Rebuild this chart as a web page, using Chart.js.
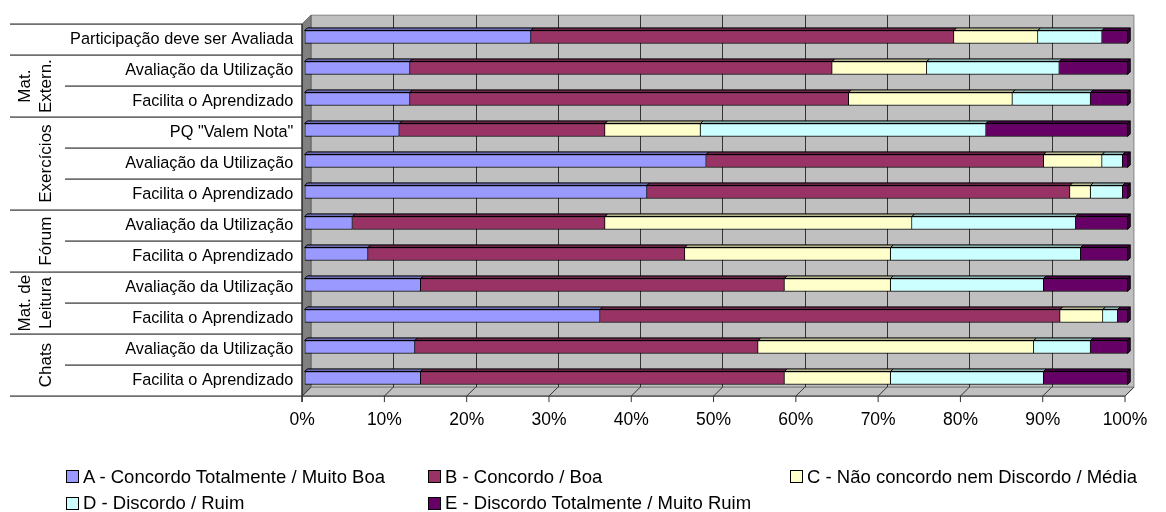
<!DOCTYPE html>
<html lang="pt">
<head>
<meta charset="utf-8">
<title>Avaliação das ferramentas</title>
<script src="https://cdn.jsdelivr.net/npm/chart.js@4.4.1/dist/chart.umd.min.js"></script>
<style>
  html, body { margin: 0; padding: 0; background: #fff; }
  #wrap { position: relative; width: 1166px; height: 512px; overflow: hidden; }
  #chart { position: absolute; left: 0; top: 0; }
  .leg-text { position: absolute; font-family: 'Liberation Sans', Arial, sans-serif; font-size: 18.5px; line-height: 22px; color: #000; white-space: nowrap; }
  .leg-box { position: absolute; width: 11px; height: 11px; border: 1px solid #000; }
</style>
</head>
<body>
<div id="wrap">
  <canvas id="chart" width="1166" height="512"></canvas>
  <div id="legend"></div>
</div>
<script>
// Row labels, top to bottom
const categoryLabels = [
  'Participação deve ser Avaliada',
  'Avaliação da Utilização',
  'Facilita o Aprendizado',
  'PQ "Valem Nota"',
  'Avaliação da Utilização',
  'Facilita o Aprendizado',
  'Avaliação da Utilização',
  'Facilita o Aprendizado',
  'Avaliação da Utilização',
  'Facilita o Aprendizado',
  'Avaliação da Utilização',
  'Facilita o Aprendizado'
];

// Group headings of the row table (rotated text) and the rows they span
const groupNames = [['Mat.', 'Extern.'], ['Exercícios'], ['Fórum'], ['Mat. de', 'Leitura'], ['Chats']];
const groupFirstRow = [1, 3, 6, 8, 10];
const groupLastRow = [2, 5, 7, 9, 11];

// Answer series (percent of answers per row)
const seriesNames = [
  'A - Concordo Totalmente / Muito Boa',
  'B - Concordo / Boa',
  'C - Não concordo nem Discordo / Média',
  'D - Discordo / Ruim',
  'E - Discordo Totalmente / Muito Ruim'
];
const serieA = [27.5, 12.8, 12.8, 11.5, 48.8, 41.6, 5.8, 7.7, 14.1, 35.9, 13.4, 14.1];
const serieB = [51.4, 51.3, 53.3, 25.0, 41.0, 51.4, 30.7, 38.5, 44.2, 55.9, 41.7, 44.2];
const serieC = [10.2, 11.5, 19.9, 11.6, 7.1, 2.5, 37.3, 25.0, 12.9, 5.2, 33.5, 12.9];
const serieD = [7.8, 16.1, 9.5, 34.7, 2.5, 3.9, 19.9, 23.1, 18.6, 1.8, 6.9, 18.6];
const serieE = [3.1, 8.3, 4.5, 17.2, 0.6, 0.6, 6.3, 5.7, 10.2, 1.2, 4.5, 10.2];

// Axis ticks (percent)
const axisMin = 0, axisMax = 100, axisStep = 10;

const seriesColors = ['#9999ff', '#993366', '#ffffcc', '#ccffff', '#660066'];
const FONT = "'Liberation Sans', Arial, sans-serif";

// Pseudo-3D depths in pixels, relative to the plane of the bar faces
const DEPTH_BAR = 2.6;
const DEPTH_FRONT = 2.6;
const DEPTH_BACK = 6.3;

function shade(hex, f) {
  const n = parseInt(hex.slice(1), 16);
  const r = Math.round(((n >> 16) & 255) * f);
  const g = Math.round(((n >> 8) & 255) * f);
  const b = Math.round((n & 255) * f);
  return `rgb(${r},${g},${b})`;
}

function poly(ctx, pts, fill, stroke, lw) {
  ctx.beginPath();
  ctx.moveTo(pts[0][0], pts[0][1]);
  for (let i = 1; i < pts.length; i++) ctx.lineTo(pts[i][0], pts[i][1]);
  ctx.closePath();
  if (fill) { ctx.fillStyle = fill; ctx.fill(); }
  if (stroke) { ctx.strokeStyle = stroke; ctx.lineWidth = lw || 1; ctx.stroke(); }
}

function line(ctx, x0, y0, x1, y1) {
  ctx.beginPath();
  ctx.moveTo(x0, y0);
  ctx.lineTo(x1, y1);
  ctx.stroke();
}

// Back wall, side wall, floor and their grid lines
const wallsPlugin = {
  id: 'walls',
  beforeDatasetsDraw(chart) {
    const { ctx, chartArea: a, scales: { x } } = chart;
    const fl = a.left - DEPTH_FRONT, fr = a.right - DEPTH_FRONT;
    const ft = a.top + DEPTH_FRONT, fb = a.bottom + DEPTH_FRONT;
    const bl = a.left + DEPTH_BACK, br = a.right + DEPTH_BACK;
    const bt = a.top - DEPTH_BACK, bb = a.bottom - DEPTH_BACK;
    ctx.save();
    poly(ctx, [[bl, bt], [br, bt], [br, bb], [bl, bb]], '#c0c0c0', '#808080', 1);
    poly(ctx, [[fl, ft], [bl, bt], [bl, bb], [fl, fb]], '#808080', '#606060', 1);
    poly(ctx, [[fl, fb], [bl, bb], [br, bb], [fr, fb]], '#c0c0c0', '#808080', 1);
    ctx.strokeStyle = '#333';
    ctx.lineWidth = 1;
    x.ticks.forEach(t => {
      const px = x.getPixelForValue(t.value);
      if (t.value > axisMin && t.value < axisMax) {
        const gx = Math.round(px + DEPTH_BACK) + 0.5;
        line(ctx, gx, bt, gx, bb);
      }
      line(ctx, px - DEPTH_FRONT, fb, px + DEPTH_BACK, bb);
    });
    ctx.restore();
  },
  afterDatasetsDraw(chart) {
    const ctx = chart.ctx;
    const rows = chart.data.labels.length;
    ctx.save();
    ctx.lineJoin = 'miter';
    chart.data.datasets.forEach((ds, di) => {
      const meta = chart.getDatasetMeta(di);
      meta.data.forEach(bar => {
        const { x: xe, y, base, height } = bar.getProps(['x', 'y', 'base', 'height'], true);
        if (Math.abs(xe - base) < 0.5) return;
        const top = y - height / 2;
        const x1 = Math.min(base, xe), x2 = Math.max(base, xe);
        poly(ctx, [[x1, top], [x1 + DEPTH_BAR, top - DEPTH_BAR], [x2 + DEPTH_BAR, top - DEPTH_BAR], [x2, top]],
          shade(ds.backgroundColor, 0.7), '#000', 1);
      });
    });
    for (let i = 0; i < rows; i++) {
      let last = -1;
      chart.data.datasets.forEach((ds, di) => { if (ds.data[i] > 0) last = di; });
      if (last < 0) continue;
      const ds = chart.data.datasets[last];
      const bar = chart.getDatasetMeta(last).data[i];
      const { x: xe, y, base, height } = bar.getProps(['x', 'y', 'base', 'height'], true);
      const x2 = Math.max(base, xe);
      const top = y - height / 2;
      poly(ctx, [[x2, top], [x2 + DEPTH_BAR, top - DEPTH_BAR], [x2 + DEPTH_BAR, top + height - DEPTH_BAR], [x2, top + height]],
        shade(ds.backgroundColor, 0.55), '#000', 1);
    }
    ctx.restore();
  },
  afterDraw(chart) {
    const { ctx, chartArea: a, scales: { x, y } } = chart;
    const rows = chart.data.labels.length;
    const fl = a.left - DEPTH_FRONT, fr = a.right - DEPTH_FRONT;
    const ft = a.top + DEPTH_FRONT, fb = a.bottom + DEPTH_FRONT;
    ctx.save();

    // Row table separators: full width at group edges, short inside a group
    const groupEdges = new Set([0, rows]);
    groupFirstRow.forEach(r => groupEdges.add(r));
    groupLastRow.forEach(r => groupEdges.add(r + 1));
    ctx.strokeStyle = '#707070';
    ctx.lineWidth = 1.6;
    for (let i = 0; i <= rows; i++) {
      const yy = y.getPixelForValue(i - 0.5) + DEPTH_FRONT;
      const x0 = groupEdges.has(i) ? 10 : 65;
      line(ctx, x0, yy, fl, yy);
    }

    // Front axes with tick marks
    ctx.strokeStyle = '#333';
    ctx.lineWidth = 1.5;
    line(ctx, fl, ft, fl, fb + 6);
    ctx.lineWidth = 1;
    line(ctx, fl, fb, fr, fb);
    x.ticks.forEach(t => {
      const px = x.getPixelForValue(t.value) - DEPTH_FRONT;
      line(ctx, px, fb, px, fb + 6);
    });

    // Rotated group headings
    ctx.fillStyle = '#000';
    ctx.font = '17px ' + FONT;
    ctx.textAlign = 'center';
    ctx.textBaseline = 'middle';
    groupNames.forEach((lines, g) => {
      const yc = (y.getPixelForValue(groupFirstRow[g] - 0.5) + y.getPixelForValue(groupLastRow[g] + 0.5)) / 2 + DEPTH_FRONT;
      lines.forEach((txt, k) => {
        const xc = 46 - (lines.length - 1 - k) * 20.5;
        ctx.save();
        ctx.translate(xc, yc);
        ctx.rotate(-Math.PI / 2);
        ctx.fillText(txt, 0, 0);
        ctx.restore();
      });
    });
    ctx.restore();
  }
};

const seriesData = [serieA, serieB, serieC, serieD, serieE];

const chart = new Chart(document.getElementById('chart'), {
  type: 'bar',
  data: {
    labels: categoryLabels,
    datasets: seriesData.map((d, i) => ({
      label: seriesNames[i],
      data: d,
      backgroundColor: seriesColors[i],
      borderColor: '#000',
      borderWidth: 1,
      borderSkipped: i === 0 ? false : 'start',
      barThickness: 13
    }))
  },
  options: {
    indexAxis: 'y',
    responsive: false,
    animation: false,
    devicePixelRatio: 1,
    events: [],
    layout: { padding: { left: 0, right: 22.3, top: 21.5, bottom: 0 } },
    plugins: { legend: { display: false }, tooltip: { enabled: false } },
    scales: {
      x: {
        type: 'linear',
        stacked: true,
        min: axisMin,
        max: axisMax,
        grid: { display: false, drawTicks: false },
        border: { display: false },
        ticks: {
          stepSize: axisStep,
          color: '#000',
          font: { family: FONT, size: 17.5 },
          padding: 16,
          labelOffset: -DEPTH_FRONT,
          maxRotation: 0,
          callback: v => v + '%'
        },
        afterFit(scale) { scale.height = 118.5; }
      },
      y: {
        type: 'category',
        stacked: true,
        grid: { display: false, drawTicks: false },
        border: { display: false },
        ticks: {
          color: '#000',
          font: { family: FONT, size: 16.3 },
          padding: 11.4,
          labelOffset: 3
        },
        afterFit(scale) { scale.width = 304.7; }
      }
    }
  },
  plugins: [wallsPlugin]
});

// Legend laid out in aligned columns under the plot
const legendCols = [66, 428, 790];
const legendRowCenters = [476.5, 503.3];
const legend = document.getElementById('legend');
chart.data.datasets.forEach((ds, i) => {
  const cx = legendCols[i % 3];
  const cy = legendRowCenters[Math.floor(i / 3)];
  const box = document.createElement('div');
  box.className = 'leg-box';
  box.style.left = cx + 'px';
  box.style.top = (cy - 6.5) + 'px';
  box.style.background = ds.backgroundColor;
  const txt = document.createElement('div');
  txt.className = 'leg-text';
  txt.style.left = (cx + 17) + 'px';
  txt.style.top = (cy - 11) + 'px';
  txt.textContent = ds.label;
  legend.appendChild(box);
  legend.appendChild(txt);
});
</script>
</body>
</html>
